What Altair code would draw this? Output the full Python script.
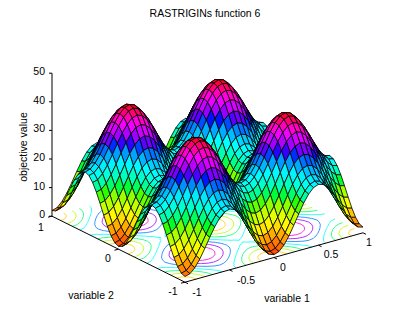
import altair as alt
import pandas as pd

TITLE = "RASTRIGINs function 6"
X_LABEL = "variable 1"
Y_LABEL = "variable 2"
Z_LABEL = "objective value"
X_TICKS = [-1, -0.5, 0, 0.5, 1]
Y_TICKS = [-1, 0, 1]
Z_TICKS = [0, 10, 20, 30, 40, 50]
GRID = [k / 18 for k in range(-18, 19)]
# height profile along each variable; the surface is the sum of the two profiles
PROFILE = [1.00, 1.49, 3.13, 5.69, 8.87, 12.26, 15.44, 18.03, 19.71, 20.25, 19.60, 17.81, 15.11, 11.81, 8.31, 5.03, 2.35, 0.61,
           0.00, 0.61, 2.35, 5.03, 8.31, 11.81, 15.11, 17.81, 19.60, 20.25, 19.71, 18.03, 15.44, 12.26, 8.87, 5.69, 3.13, 1.49, 1.00]
CONTOUR_LEVELS = [5, 10, 15, 20, 25, 30, 35]
HSV_DOMAIN = [0, 6.75, 13.5, 20.25, 27, 33.75, 40.5]
HSV_RANGE = ["#ff0000", "#ffff00", "#00ff00", "#00ffff", "#0000ff", "#ff00ff", "#ff0000"]
FONT = "Liberation Sans"
FONT_SIZE = 10.5
X_NUDGE = {-1: (12, 11), -0.5: (16.5, 11), 0: (9, 10.5), 0.5: (12.5, 10), 1: (6, 10)}
Y_NUDGE = {-1: (-12, 10), 0: (-10.5, 10), 1: (-11, 12)}


def project(x, y, z=0):
    return (207.5 + 89 * x - 66.5 * y, 224.5 - 24.7 * x - 33 * y - 2.86 * z)


n = len(GRID)
Z = [[PROFILE[i] + PROFILE[j] for i in range(n)] for j in range(n)]  # Z[j][i]: y index j, x index i

# surface polygons, back to front
cells = sorted(((i, j) for i in range(n - 1) for j in range(n - 1)),
               key=lambda c: project(GRID[c[0]], GRID[c[1]])[1])
rows = []
for q, (i, j) in enumerate(cells):
    corners = [(i, j), (i + 1, j), (i + 1, j + 1), (i, j + 1), (i, j)]
    zm = Z[j][i]
    for o, (a, b) in enumerate(corners):
        px, py = project(GRID[a], GRID[b], Z[b][a])
        rows.append({"q": q, "o": o, "px": px, "py": py, "z": zm})
surface = pd.DataFrame(rows)

# contours on the floor, by marching squares over the grid
segs = []
for lev in CONTOUR_LEVELS:
    for i in range(n - 1):
        for j in range(n - 1):
            c = [(i, j), (i + 1, j), (i + 1, j + 1), (i, j + 1)]
            pts = []
            for k in range(4):
                a, b = c[k], c[(k + 1) % 4]
                za, zb = Z[a[1]][a[0]], Z[b[1]][b[0]]
                if (za < lev) != (zb < lev):
                    t = (lev - za) / (zb - za)
                    pts.append(project(GRID[a[0]] + t * (GRID[b[0]] - GRID[a[0]]),
                                       GRID[a[1]] + t * (GRID[b[1]] - GRID[a[1]])))
            for m in range(0, len(pts) - 1, 2):
                segs.append({"px": pts[m][0], "py": pts[m][1], "px2": pts[m + 1][0], "py2": pts[m + 1][1], "z": lev})
contours = pd.DataFrame(segs)


def seg(p, q):
    return {"px": p[0], "py": p[1], "px2": q[0], "py2": q[1]}


axes = [seg(project(-1, 1), project(-1, 1, 50)), seg(project(-1, -1), project(1, -1)), seg(project(-1, 1), project(-1, -1))]
for t in Z_TICKS:
    p = project(-1, 1, t)
    axes.append(seg(p, (p[0] - 3, p[1])))
for t in X_TICKS:
    p = project(t, -1)
    axes.append(seg(p, (p[0] + 3, p[1] + 1.5)))
for t in Y_TICKS:
    p = project(-1, t)
    axes.append(seg(p, (p[0] - 4, p[1] + 1)))
axes = pd.DataFrame(axes)

xs = alt.Scale(domain=[8, 388], nice=False, zero=False)
ys = alt.Scale(domain=[304, 8], nice=False, zero=False)
X = alt.X("px:Q", scale=xs, axis=None)
Y = alt.Y("py:Q", scale=ys, axis=None)
col = alt.Color("z:Q", scale=alt.Scale(domain=HSV_DOMAIN, range=HSV_RANGE), legend=None)

contour_layer = alt.Chart(contours).mark_rule(strokeWidth=0.8).encode(X, Y, x2="px2:Q", y2="py2:Q", color=col)
surface_layer = alt.Chart(surface).mark_line(filled=True, stroke="black", strokeWidth=0.8, interpolate="linear").encode(
    X, Y, detail="q:N", order="o:Q", color=col)
axis_layer = alt.Chart(axes).mark_rule(color="black", strokeWidth=1).encode(X, Y, x2="px2:Q", y2="py2:Q")


def labels(values, pos, **kw):
    df = pd.DataFrame([{"px": pos(v)[0], "py": pos(v)[1], "t": f"{v:g}"} for v in values])
    return alt.Chart(df).mark_text(font=FONT, fontSize=FONT_SIZE, color="black", **kw).encode(X, Y, text="t:N")


def note(text, px, py, **kw):
    return alt.Chart(pd.DataFrame([{"px": px, "py": py, "t": text}])).mark_text(
        font=FONT, fontSize=FONT_SIZE, color="black", **kw).encode(X, Y, text="t:N")


def x_label_pos(t):
    p = project(t, -1)
    return (p[0] + X_NUDGE[t][0], p[1] + X_NUDGE[t][1])


def y_label_pos(t):
    p = project(-1, t)
    return (p[0] + Y_NUDGE[t][0], p[1] + Y_NUDGE[t][1])


chart = alt.layer(
    contour_layer, surface_layer, axis_layer,
    labels(Z_TICKS, lambda t: project(-1, 1, t), align="right", dx=-7, dy=-1),
    labels(X_TICKS, x_label_pos),
    labels(Y_TICKS, y_label_pos),
    note(TITLE, 205, 14),
    note(X_LABEL, 287, 299),
    note(Y_LABEL, 91, 296),
    note(Z_LABEL, 24, 147, angle=270),
).properties(width=380, height=296, padding=0, autosize=alt.AutoSizeParams(type="none")).configure_view(stroke=None)

chart.save("out.html", embed_options={"renderer": "svg", "actions": False})
